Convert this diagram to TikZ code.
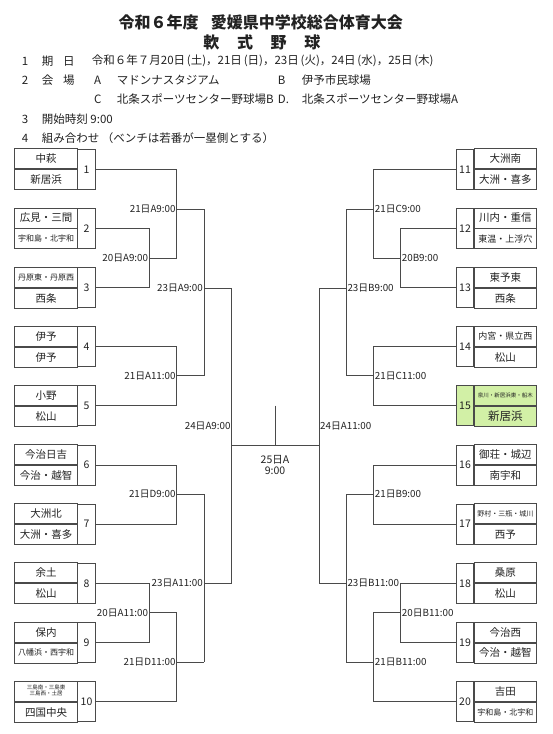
\documentclass[tikz,border=0pt]{standalone}
\usepackage{fontspec}
\setmainfont{Noto Sans CJK JP}
\newcommand\fsz[1]{\fontsize{#1}{#1}\selectfont}
\definecolor{ln}{HTML}{4A4A4A}
\definecolor{hl}{HTML}{D2F0A6}
\definecolor{tx}{HTML}{222222}
\tikzset{
 brk/.style={draw=ln,line width=0.9pt},
 cell/.style={draw=ln,line width=0.9pt,inner sep=0pt,minimum width=62.5pt,minimum height=20pt,text=tx,font=\fsz{10.5},align=center},
 numcell/.style={draw=ln,line width=0.9pt,inner sep=0pt,minimum width=17.5pt,minimum height=40pt,text=tx,font=\fsz{10.5}},
 lab/.style={inner sep=1pt,text=tx,font=\fsz{9.8}},
 hdr/.style={inner sep=0pt,anchor=west,text=tx,font=\fsz{11.5}},
 ttl/.style={inner sep=0pt,text=tx,font=\fsz{16}\bfseries},
}
\newcommand\LBox[4]{%
 \node[numcell] (n#1) at (86.5,#2) {#1};
 \node[cell,anchor=south east] (t#1) at (77.75,#2) {#3};
 \node[cell,anchor=north east] (b#1) at (77.75,#2) {#4};}
\newcommand\RBox[4]{%
 \node[numcell] (n#1) at (465,#2) {#1};
 \node[cell,anchor=south west] (t#1) at (473.75,#2) {#3};
 \node[cell,anchor=north west] (b#1) at (473.75,#2) {#4};}
\newcommand\pk{\kern1.8pt}
\begin{document}
\begin{tikzpicture}[x=1pt,y=-1pt]
\fill[white] (0,0) rectangle (553,734);
\useasboundingbox (0,0) rectangle (553,734);

% ---------- header ----------
\node[ttl,anchor=west] (ti1) at (118.3,22.7) {令和６年度};
\node[ttl,anchor=west] (ti2) at (210.7,22.7) {愛媛県中学校総合体育大会};
\node[ttl] (s1) at (211.3,42.7) {軟};
\node[ttl] (s2) at (245,42.7) {式};
\node[ttl] (s3) at (278.7,42.7) {野};
\node[ttl] (s4) at (312.3,42.7) {球};

\node[hdr] (h1a) at (21.7,61) {1};
\node[hdr] (h1b) at (41.7,61) {期};
\node[hdr] (h1c) at (63,61) {日};
\node[hdr] (h1d) at (91.7,61) {令和６年７月20日\pk(土)，21日\pk(日)，23日\pk(火)，24日\pk(水)，25日\pk(木)};

\node[hdr] (h2a) at (21.7,80) {2};
\node[hdr] (h2b) at (41.7,80) {会};
\node[hdr] (h2c) at (63,80) {場};
\node[hdr] (h2d) at (94,80) {A};
\node[hdr] (h2e) at (116.7,80) {マドンナスタジアム};
\node[hdr] (h2f) at (277.7,80) {B};
\node[hdr] (h2g) at (301.7,80) {伊予市民球場};

\node[hdr] (h3a) at (94,99.3) {C};
\node[hdr] (h3b) at (116.7,99.3) {北条スポーツセンター野球場B};
\node[hdr] (h3c) at (277.7,99.3) {D.};
\node[hdr] (h3d) at (301.7,99.3) {北条スポーツセンター野球場A};

\node[hdr] (h4a) at (21.7,119.3) {3};
\node[hdr] (h4b) at (41.7,119.3) {開始時刻 9:00};

\node[hdr] (h5a) at (21.7,138.3) {4};
\node[hdr] (h5b) at (41.7,138.3) {組み合わせ};
\node[hdr] (h5c) at (101.7,138.3) {（ベンチは若番が一塁側とする）};

% ---------- highlight of box 15 ----------
\fill[hl] (456.25,385.9) rectangle (536.25,425.9);

% ---------- left boxes ----------
\LBox{1}{169.3}{中萩}{新居浜}
\LBox{2}{228.45}{広見・三間}{\fsz{8}宇和島・北宇和}
\LBox{3}{287.6}{\fsz{8}丹原東・丹原西}{西条}
\LBox{4}{346.75}{伊予}{伊予}
\LBox{5}{405.9}{小野}{松山}
\LBox{6}{465.05}{今治日吉}{今治・越智}
\LBox{7}{524.2}{大洲北}{大洲・喜多}
\LBox{8}{583.35}{余土}{松山}
\LBox{9}{642.5}{保内}{\fsz{8}八幡浜・西宇和}
\LBox{10}{701.65}{\fontsize{5.5}{6.8}\selectfont\begin{tabular}{@{}c@{}}三島南・三島東\\三島西・土居\end{tabular}}{四国中央}

% ---------- right boxes ----------
\RBox{11}{169.3}{大洲南}{大洲・喜多}
\RBox{12}{228.45}{川内・重信}{\fsz{9}東温・上浮穴}
\RBox{13}{287.6}{東予東}{西条}
\RBox{14}{346.75}{\fsz{9}内宮・県立西}{松山}
\RBox{15}{405.9}{\fsz{5.5}泉川・新居浜東・船木}{\fsz{11.5}新居浜}
\RBox{16}{465.05}{御荘・城辺}{南宇和}
\RBox{17}{524.2}{\fsz{7}野村・三瓶・城川}{西予}
\RBox{18}{583.35}{桑原}{松山}
\RBox{19}{642.5}{今治西}{今治・越智}
\RBox{20}{701.65}{吉田}{\fsz{8}宇和島・北宇和}

% ---------- junction coordinates ----------
\coordinate (A1) at (149.3,258.2);
\coordinate (A2) at (176.7,258.2);
\coordinate (A3) at (176.7,209.3);
\coordinate (A4) at (204,209.3);
\coordinate (A5) at (176.7,375.7);
\coordinate (A6) at (204,375.7);
\coordinate (A7) at (204,288.3);
\coordinate (A8) at (231.7,288.3);
\coordinate (B1) at (176.7,494.3);
\coordinate (B2) at (204,494.3);
\coordinate (B3) at (149.3,612.7);
\coordinate (B4) at (176.7,612.7);
\coordinate (B5) at (176.7,662.3);
\coordinate (B6) at (204,662.3);
\coordinate (B7) at (204,583.3);
\coordinate (B8) at (231.7,583.3);
\coordinate (M1) at (231.7,445.3);
\coordinate (M2) at (319,445.3);
\coordinate (M3) at (275,405.7);
\coordinate (M4) at (275,445.3);
\coordinate (C1) at (400.7,258.2);
\coordinate (C2) at (373.7,258.2);
\coordinate (C3) at (373.7,209.3);
\coordinate (C4) at (346.3,209.3);
\coordinate (C5) at (373.7,375.7);
\coordinate (C6) at (346.3,375.7);
\coordinate (C7) at (346.3,288.3);
\coordinate (C8) at (319,288.3);
\coordinate (D1) at (373.7,494.3);
\coordinate (D2) at (346.3,494.3);
\coordinate (D3) at (400.7,612.7);
\coordinate (D4) at (373.7,612.7);
\coordinate (D5) at (373.7,662.3);
\coordinate (D6) at (346.3,662.3);
\coordinate (D7) at (346.3,583.3);
\coordinate (D8) at (319,583.3);

% ---------- left bracket ----------
\draw[brk] (n1.east) -| (A2) -- (A1);
\draw[brk] (n2.east) -| (A1) |- (n3.east);
\draw[brk] (A3) -- (A4) -- (A6);
\draw[brk] (n4.east) -| (A5) |- (n5.east);
\draw[brk] (A5) -- (A6);
\draw[brk] (A7) -- (A8);
\draw[brk] (n6.east) -| (B1) |- (n7.east);
\draw[brk] (B1) -- (B2);
\draw[brk] (n8.east) -| (B3) |- (n9.east);
\draw[brk] (B3) -- (B4) |- (n10.east);
\draw[brk] (B5) -- (B6);
\draw[brk] (B2) -- (B6);
\draw[brk] (B7) -- (B8);
\draw[brk] (A8) -- (B8);
% ---------- final ----------
\draw[brk] (M1) -- (M2);
\draw[brk] (M3) -- (M4);
% ---------- right bracket ----------
\draw[brk] (n11.west) -| (C2) -- (C1);
\draw[brk] (n12.west) -| (C1) |- (n13.west);
\draw[brk] (C3) -- (C4) -- (C6);
\draw[brk] (n14.west) -| (C5) |- (n15.west);
\draw[brk] (C5) -- (C6);
\draw[brk] (C7) -- (C8);
\draw[brk] (n16.west) -| (D1) |- (n17.west);
\draw[brk] (D1) -- (D2);
\draw[brk] (n18.west) -| (D3) |- (n19.west);
\draw[brk] (D3) -- (D4) |- (n20.west);
\draw[brk] (D5) -- (D6);
\draw[brk] (D2) -- (D6);
\draw[brk] (D7) -- (D8);
\draw[brk] (C8) -- (D8);

% ---------- labels ----------
\node[lab,anchor=east] (l1) at (A3) {21日A9:00};
\node[lab,anchor=east] (l2) at (A1) {20日A9:00};
\node[lab,anchor=east] (l3) at (A7) {23日A9:00};
\node[lab,anchor=east] (l4) at (A5) {21日A11:00};
\node[lab,anchor=east] (l5) at (231.7,425.7) {24日A9:00};
\node[lab,anchor=east] (l6) at (B1) {21日D9:00};
\node[lab,anchor=east] (l7) at (B3) {20日A11:00};
\node[lab,anchor=east] (l8) at (B7) {23日A11:00};
\node[lab,anchor=east] (l9) at (B5) {21日D11:00};
\node[lab,anchor=west] (r1) at (C3) {21日C9:00};
\node[lab,anchor=west] (r2) at (C1) {20B9:00};
\node[lab,anchor=west] (r3) at (C7) {23日B9:00};
\node[lab,anchor=west] (r4) at (C5) {21日C11:00};
\node[lab,anchor=west] (r5) at (319,425.7) {24日A11:00};
\node[lab,anchor=west] (r6) at (D1) {21日B9:00};
\node[lab,anchor=west] (r7) at (D7) {23日B11:00};
\node[lab,anchor=west] (r8) at (D3) {20日B11:00};
\node[lab,anchor=west] (r9) at (D5) {21日B11:00};
\node[lab,font=\fsz{10.5},align=center] (fin) at (275,465) {25日A\\[1pt]9:00};
\end{tikzpicture}
\end{document}
